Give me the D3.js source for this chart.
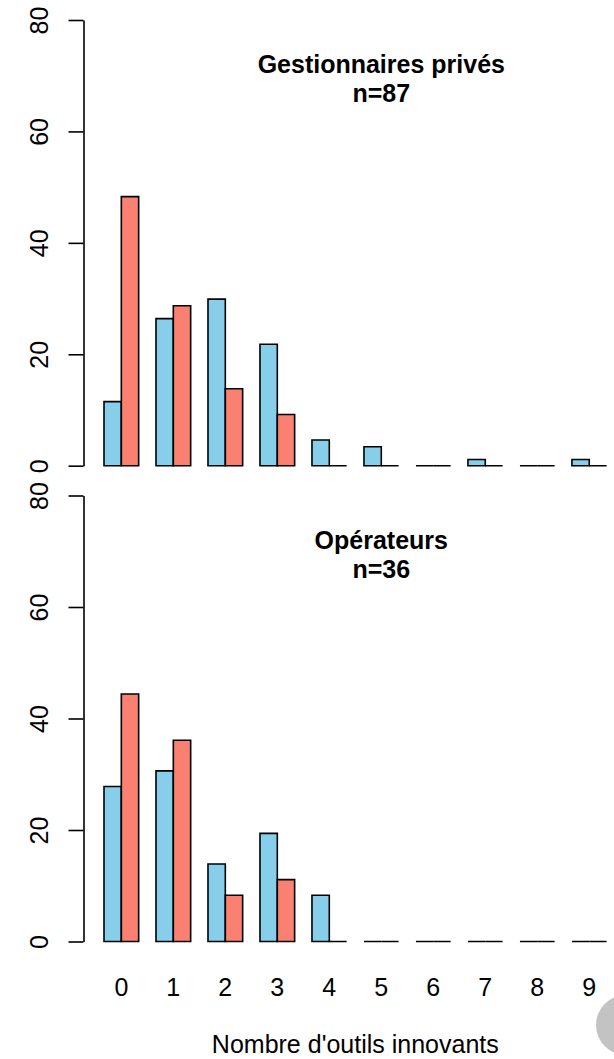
<!DOCTYPE html>
<html>
<head>
<meta charset="utf-8">
<script src="https://cdn.jsdelivr.net/npm/d3@7"></script>
<style>
  html, body { margin: 0; padding: 0; background: #fff; }
  svg { display: block; }
  text { font-family: "Liberation Sans", Arial, sans-serif; fill: #000; }
</style>
</head>
<body>
<svg id="chart" width="614" height="1059"></svg>
<script>
// ---- data (percent of respondents) ----
const categories = ["0","1","2","3","4","5","6","7","8","9"];
const yTicks = [0, 20, 40, 60, 80];

const panel1Title = "Gestionnaires privés";
const panel1N = "n=87";
const panel1Blue = [11.5, 26.4, 29.9, 21.8, 4.6, 3.4, 0, 1.1, 0, 1.1];
const panel1Red  = [48.3, 28.7, 13.8, 9.2, 0, 0, 0, 0, 0, 0];

const panel2Title = "Opérateurs";
const panel2N = "n=36";
const panel2Blue = [27.8, 30.6, 13.9, 19.4, 8.3, 0, 0, 0, 0, 0];
const panel2Red  = [44.4, 36.1, 8.3, 11.1, 0, 0, 0, 0, 0, 0];

const xLabel = "Nombre d'outils innovants";

// ---- layout ----
const svg = d3.select("#chart");
const FONT = 25;
// x in "bar units": bar i of group g starts at 1 + 3g + i  (R barplot beside=TRUE)
const x = d3.scaleLinear().domain([-0.16, 31.16]).range([83.9, 626.7]);
const axisX = 83.5;

const panels = [
  { title: panel1Title, n: panel1N, blue: panel1Blue, red: panel1Red, y0: 465.7, y80: 20 },
  { title: panel2Title, n: panel2N, blue: panel2Blue, red: panel2Red, y0: 941.5, y80: 495.5 }
];

panels.forEach(p => {
  const y = d3.scaleLinear().domain([0, 80]).range([p.y0, p.y80]);
  const g = svg.append("g");

  const series = [
    { vals: p.blue, fill: "#87CEEB", off: 0 },
    { vals: p.red,  fill: "#FA8072", off: 1 }
  ];
  series.forEach(s => {
    g.selectAll(null).data(s.vals).enter().append("path")
      .attr("d", (v, i) => {
        const x0 = x(1 + 3 * i + s.off), x1 = x(2 + 3 * i + s.off);
        const yb = y(0), yt = y(v);
        return `M${x0},${yb}V${yt}H${x1}V${yb}Z`;
      })
      .attr("fill", s.fill)
      .attr("stroke", "#000")
      .attr("stroke-width", 1.6)
      .attr("stroke-linejoin", "miter");
  });

  // y axis
  const ax = g.append("g")
    .attr("transform", `translate(${axisX},0)`)
    .call(d3.axisLeft(y).tickValues(yTicks).tickSize(15).tickSizeOuter(0));
  ax.select(".domain").attr("stroke", "#000").attr("stroke-width", 1.6);
  ax.selectAll(".tick line").attr("stroke", "#000").attr("stroke-width", 1.6);
  ax.selectAll(".tick text")
    .attr("x", null).attr("dy", null).attr("y", null)
    .attr("transform", "translate(-35.5,0) rotate(-90)")
    .attr("text-anchor", "middle")
    .style("font-family", '"Liberation Sans", Arial, sans-serif')
    .style("font-size", FONT + "px")
    .attr("fill", "#000");

  // panel title
  const tx = x(17);
  g.append("text").attr("x", tx).attr("y", y(80) + 53)
    .attr("text-anchor", "middle").style("font-weight", "bold").style("font-size", FONT + "px")
    .text(p.title);
  g.append("text").attr("x", tx).attr("y", y(80) + 82)
    .attr("text-anchor", "middle").style("font-weight", "bold").style("font-size", FONT + "px")
    .text(p.n);
});

// x category labels (bottom panel only)
svg.append("g").selectAll(null).data(categories).enter().append("text")
  .attr("x", (d, i) => x(2 + 3 * i))
  .attr("y", 996)
  .attr("text-anchor", "middle")
  .style("font-size", FONT + "px")
  .text(d => d);

// x axis title
svg.append("text")
  .attr("x", (x.range()[0] + x.range()[1]) / 2)
  .attr("y", 1053)
  .attr("text-anchor", "middle")
  .style("font-size", FONT + "px")
  .text(xLabel);

// grey circle in bottom-right corner of the screenshot
svg.append("circle").attr("cx", 626).attr("cy", 1025).attr("r", 30).attr("fill", "#c3c3c3");
</script>
</body>
</html>
